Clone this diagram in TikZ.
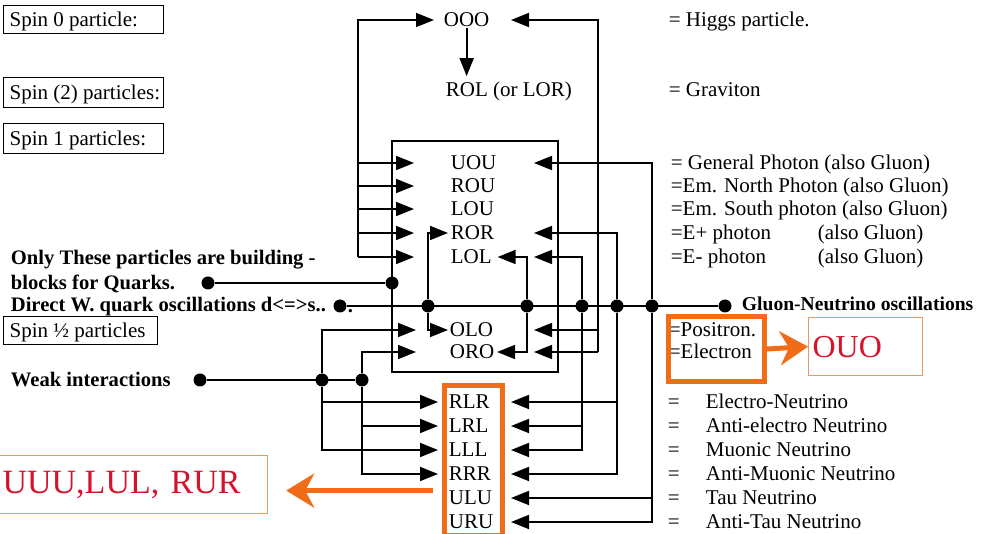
\documentclass[tikz,border=0pt]{standalone}
\usepackage{fontspec}
\setmainfont{Liberation Serif}
\usetikzlibrary{arrows.meta}
\definecolor{hiorange}{RGB}{240,108,24}
\definecolor{paleorange}{RGB}{234,152,96}
\definecolor{hired}{RGB}{212,20,44}
\begin{document}
\begin{tikzpicture}
  [x=1pt,y=-1pt,line width=1.8pt,
    txt/.style={inner sep=0pt,anchor=west,text height=14pt,text depth=0pt,
      font=\fontsize{21}{23}\selectfont},
    bld/.style={txt,font=\fontsize{20.6}{23}\selectfont\bfseries},
    spinbox/.style={txt,draw,line width=1.3pt,anchor=north west,
      inner xsep=6pt},
    jdot/.style={circle,fill,inner sep=0pt,minimum size=13pt},
    arr/.style={-{Triangle[length=18pt,width=14pt]}},
    hibox/.style={draw=hiorange,line width=5pt,anchor=north west},
    hiarr/.style={draw=hiorange,line width=5pt,
      -{Stealth[length=28pt,width=34pt,inset=9pt]}},
    redbox/.style={draw=paleorange,line width=1.2pt,anchor=north west,
      inner xsep=4pt,text=hired,align=left,font=\fontsize{34}{36}\selectfont},
]
  \useasboundingbox (0,0) rectangle (989,534);

  % left column
  \node[spinbox,minimum height=28pt] (spin0) at (3,5) {\makebox[148pt][l]{Spin 0 particle:}};
  \node[spinbox,minimum height=30pt] (spin2) at (3,77) {\makebox[148pt][l]{Spin (2) particles:}};
  \node[spinbox,minimum height=30pt] (spin1) at (3,123) {\makebox[148pt][l]{Spin 1 particles:}};
  \node[spinbox,minimum height=28pt] (spinh) at (3,316) {\makebox[142pt][l]{Spin ½ particles}};

  \node[bld] (build1) at (10,258) {Only These particles are building -};
  \node[bld] (build2) at (10,283) {blocks for Quarks.};
  \node[bld] (wosc) at (10,305) {Direct W. quark oscillations d<=>s..};
  \node[bld] (weak) at (10,380) {Weak interactions};

  % particle routes
  \node[txt] (ooo) at (443,20) {OOO};
  \node[txt] (rol) at (445,90) {ROL (or LOR)};

  \node[txt] (uou) at (450,163) {UOU};
  \node[txt] (rou) at (450,186) {ROU};
  \node[txt] (lou) at (450,209) {LOU};
  \node[txt] (ror) at (450,233) {ROR};
  \node[txt] (lol) at (450,257) {LOL};
  \node[txt] (olo) at (449,330) {OLO};
  \node[txt] (oro) at (449,352) {ORO};

  \node[txt] (rlr) at (448,402) {RLR};
  \node[txt] (lrl) at (448,426) {LRL};
  \node[txt] (lll) at (448,450) {LLL};
  \node[txt] (rrr) at (448,474) {RRR};
  \node[txt] (ulu) at (448,498) {ULU};
  \node[txt] (uru) at (448,522) {URU};

  % right column
  \node[txt] (higgs) at (668,20) {= Higgs particle.};
  \node[txt] (grav) at (668,90) {= Graviton};
  \node[txt] (ph1) at (670,163) {= General Photon (also Gluon)};
  \node[txt] (ph2) at (670,186) {=Em. North Photon (also Gluon)};
  \node[txt] (ph3) at (670,209) {=Em. South photon (also Gluon)};
  \node[txt] (ph4) at (670,233) {\makebox[147pt][l]{=E+ photon}(also Gluon)};
  \node[txt] (ph5) at (670,257) {\makebox[147pt][l]{=E- photon}(also Gluon)};
  \node[bld,font=\fontsize{19.6}{22}\selectfont\bfseries] (gnosc) at (741,304) {Gluon-Neutrino oscillations};
  \node[txt] (posi) at (668,330) {=Positron.};
  \node[txt] (elec) at (668,352) {=Electron};
  \node[txt] (nu1) at (667,402) {\makebox[38pt][l]{=}Electro-Neutrino};
  \node[txt] (nu2) at (667,426) {\makebox[38pt][l]{=}Anti-electro Neutrino};
  \node[txt] (nu3) at (667,450) {\makebox[38pt][l]{=}Muonic Neutrino};
  \node[txt] (nu4) at (667,474) {\makebox[38pt][l]{=}Anti-Muonic Neutrino};
  \node[txt] (nu5) at (667,498) {\makebox[38pt][l]{=}Tau Neutrino};
  \node[txt] (nu6) at (667,522) {\makebox[38pt][l]{=}Anti-Tau Neutrino};

  % columns of the wiring
  \coordinate (lbus) at (358,0);
  \coordinate (rbus) at (598,0);
  \coordinate (tipA) at (414,0);
  \coordinate (tipB) at (416,0);
  \coordinate (tipC) at (438,0);
  \coordinate (tipD) at (534,0);
  \coordinate (tipE) at (511,0);

  \coordinate (cbox1) at (392,141);
  \coordinate (cbox2) at (558,372);
  \draw (cbox1) rectangle (cbox2);

  % Higgs and graviton
  \draw[arr] (lbus |- lol) |- ([xshift=-9pt]ooo.west);
  \draw[arr] (rbus |- oro) |- (tipE |- ooo);
  \draw[arr,shorten >=6pt] (ooo.south) -- (ooo.south |- rol.north);
  \foreach \r in {uou,rou,lou,ror,lol}
    \draw[arr] (lbus |- \r) -- (tipA |- \r);
  \draw[arr] (rbus |- olo) -- (tipD |- olo);
  \draw[arr] (rbus |- oro) -- (tipD |- oro);

  % quark building blocks
  \node[jdot] (bqdot) at (208,283) {};
  \node[jdot] (bqjoin) at (392,283) {};
  \draw (bqdot) -- (bqjoin);

  % W oscillation line
  \node[jdot] (wdot) at (340,306) {};
  \node[bld] (wtail) at (347,306) {.};
  \node[jdot] (j1) at (428,306) {};
  \node[jdot] (j2) at (527,306) {};
  \node[jdot] (j3) at (582,306) {};
  \node[jdot] (j4) at (617,306) {};
  \node[jdot] (j5) at (652,306) {};
  \node[jdot] (gdot) at (725,306) {};
  \draw (wdot) -- (gdot);

  \draw[arr] (j1) |- ([xshift=-2pt]ror.west);
  \draw[arr] (j1) |- ([xshift=-1pt]olo.west);
  \draw[arr] (j2) |- ([xshift=5pt]lol.east);
  \draw[arr] (j2) |- ([xshift=2pt]oro.east);
  \draw[arr] (j3) |- (tipD |- lol);
  \draw[arr] (j3) |- (tipE |- lll);
  \draw[arr] (j3 |- lrl) -- (tipE |- lrl);
  \draw[arr] (j4) |- (tipD |- ror);
  \draw[arr] (j4) |- (tipE |- rrr);
  \draw[arr] (j4 |- rlr) -- (tipE |- rlr);
  \draw[arr] (j5) |- (tipD |- uou);
  \draw[arr] (j5) |- (tipE |- uru);
  \draw[arr] (j5 |- ulu) -- (tipE |- ulu);

  % weak interactions
  \node[jdot] (wkdot) at (200,380) {};
  \node[jdot] (k1) at (322,380) {};
  \node[jdot] (k2) at (362,380) {};
  \draw (wkdot) -- (k2);
  \draw[arr] (k1) |- (tipB |- olo);
  \draw[arr] (k1) |- (tipC |- lll);
  \draw[arr] (k1 |- rlr) -- (tipC |- rlr);
  \draw[arr] (k2) |- (tipB |- oro);
  \draw[arr] (k2) |- (tipC |- rrr);
  \draw[arr] (k2 |- lrl) -- (tipC |- lrl);

  % highlights
  \node[hibox,minimum width=58pt,minimum height=150pt] (nbox) at (442,383) {};
  \node[redbox,text width=261pt,minimum height=58pt] (uuu) at (-2,455) {UUU,LUL, RUR};
  \draw[hiarr] ([xshift=-9pt,yshift=-6pt]nbox.west |- uuu.east) -- ([xshift=18pt,yshift=-6pt]uuu.east);

  \node[hibox,minimum width=96pt,minimum height=65pt] (pebox) at (666,314) {};
  \node[redbox,text width=106pt,minimum height=58pt,font=\fontsize{32}{34}\selectfont] (ouo) at (808,317) {OUO};
  \draw[hiarr] (pebox.east) -- (ouo.west);

\end{tikzpicture}
\end{document}
